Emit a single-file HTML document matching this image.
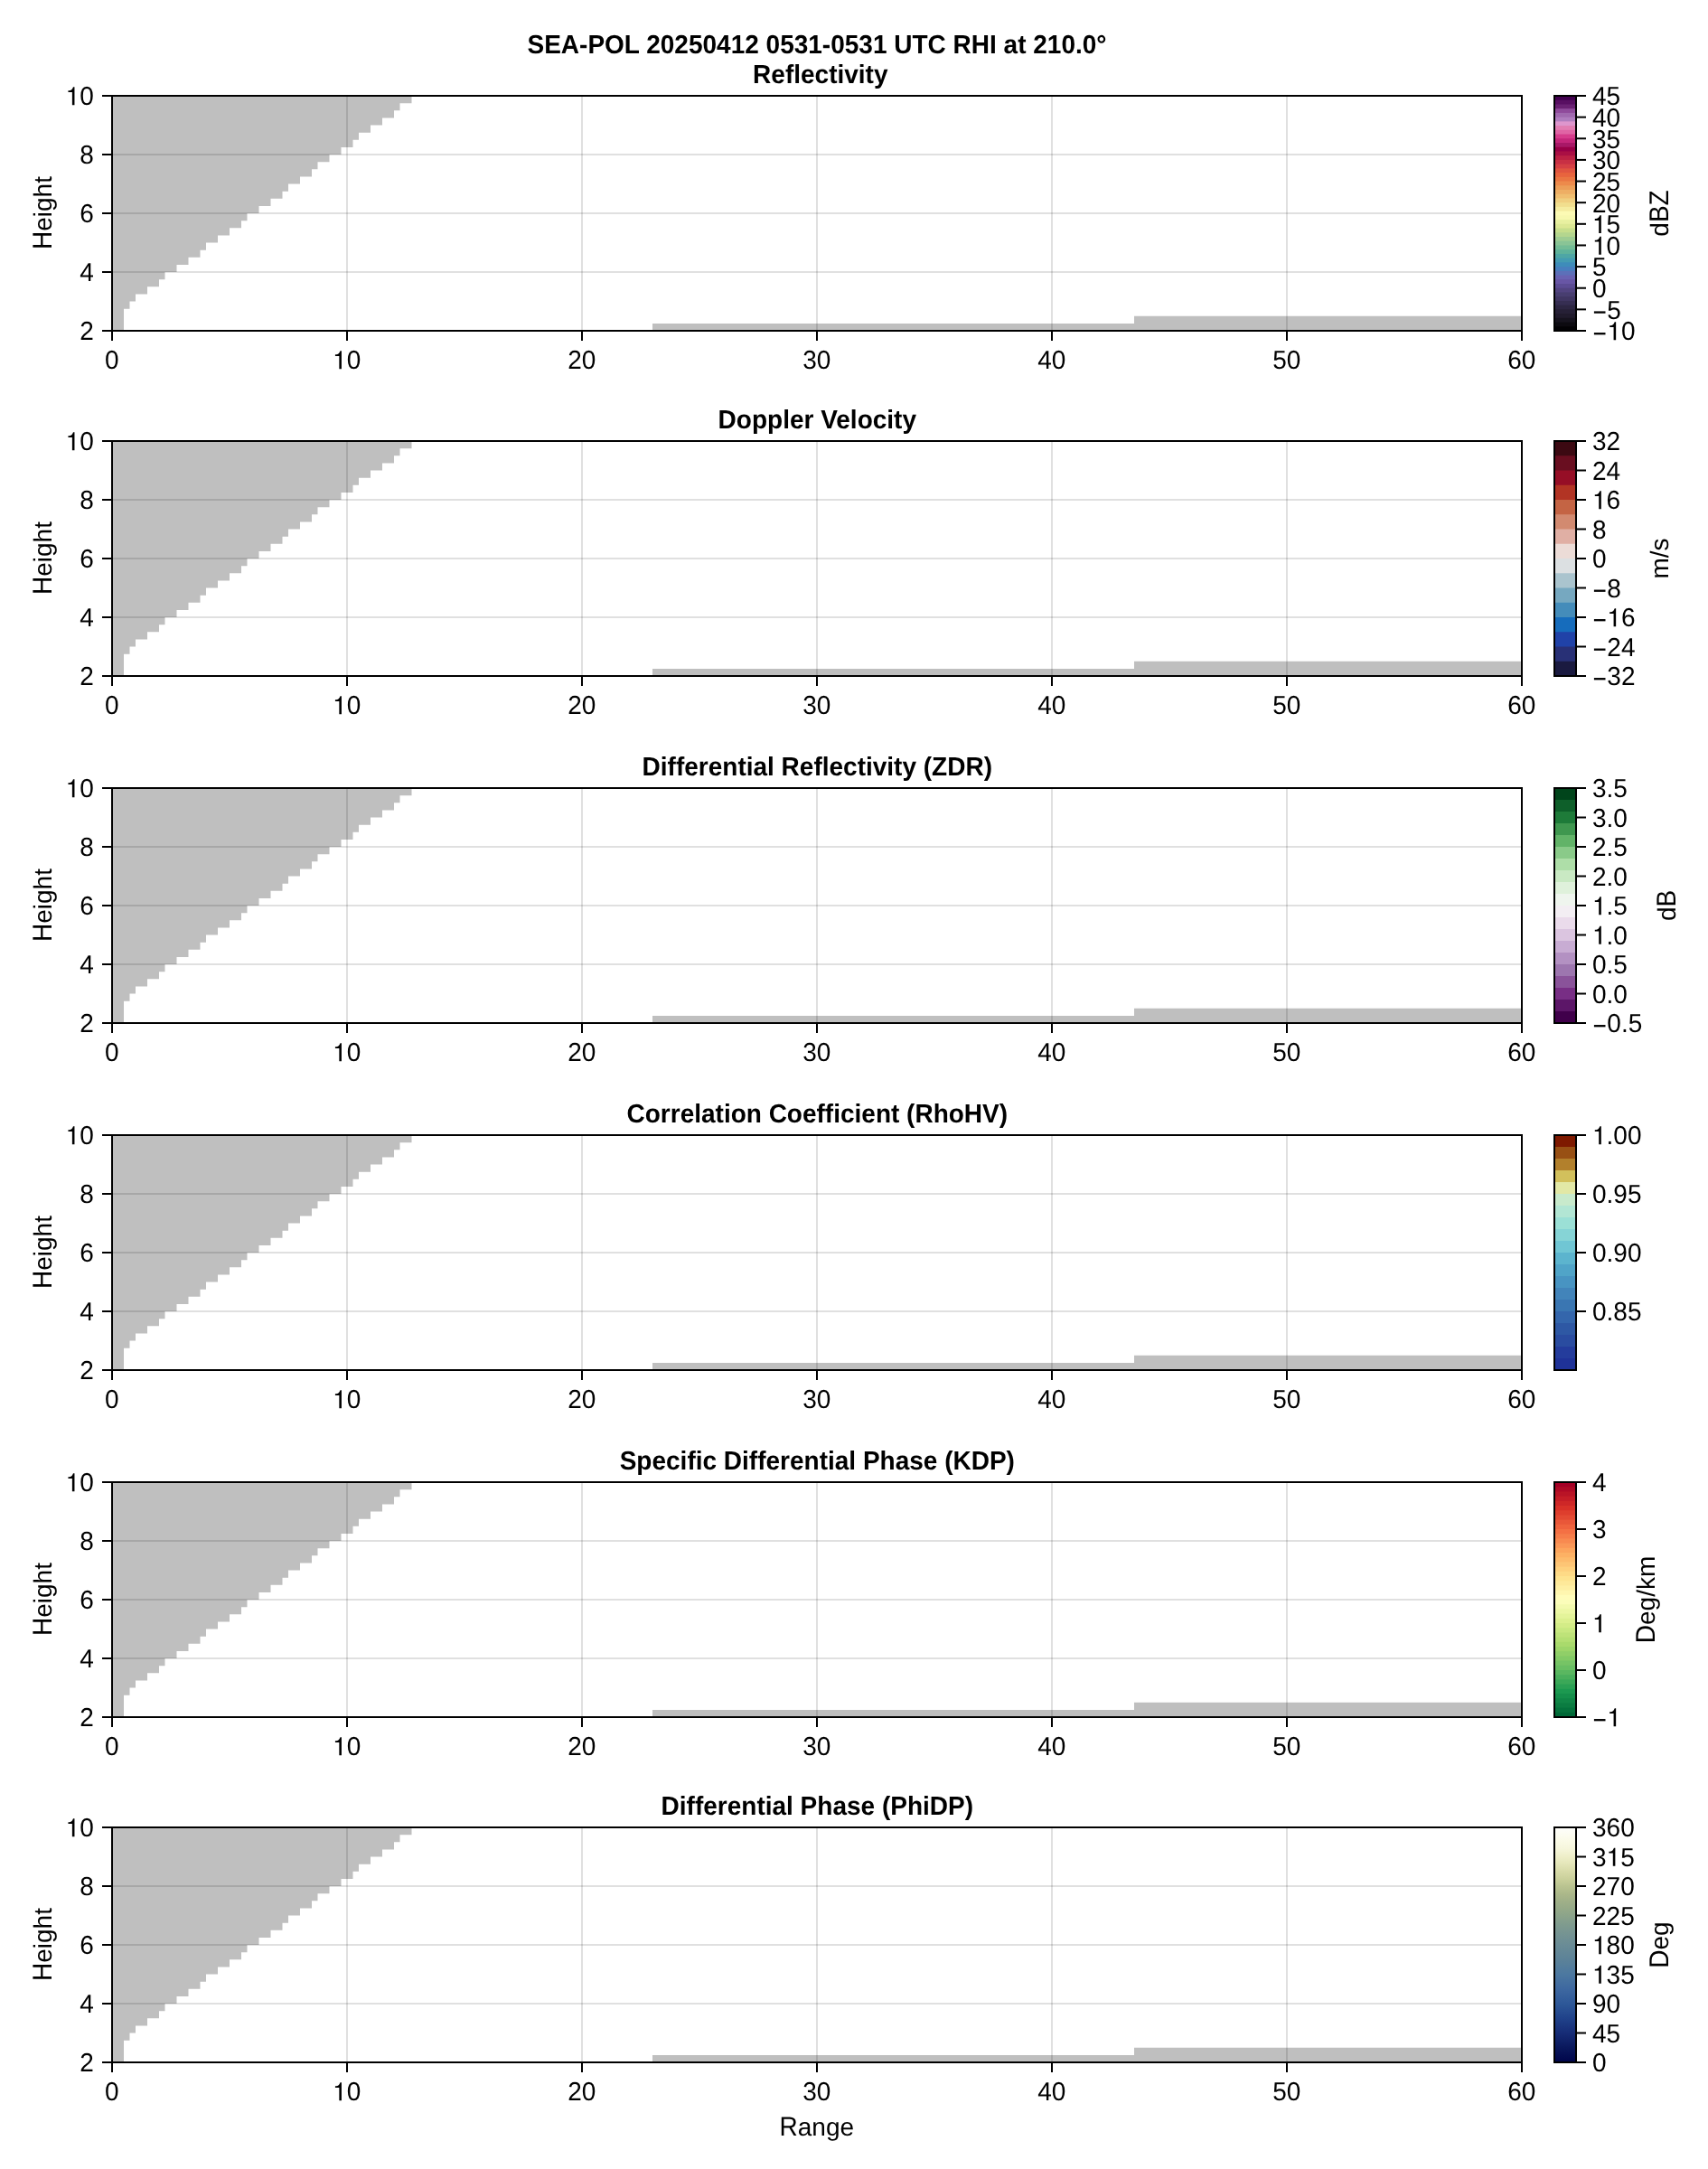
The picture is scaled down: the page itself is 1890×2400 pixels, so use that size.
<!DOCTYPE html>
<html><head><meta charset="utf-8"><title>SEA-POL RHI</title>
<style>html,body{margin:0;padding:0;background:#fff}body{width:1890px;height:2400px;overflow:hidden;font-family:"Liberation Sans",sans-serif}svg text{fill:#000;font-family:"Liberation Sans",sans-serif;text-rendering:geometricPrecision}</style></head>
<body>
<svg width="1890" height="2400" viewBox="0 0 1890 2400" style="display:block;will-change:transform">
<defs><linearGradient id="davos" x1="0" y1="1" x2="0" y2="0">
<stop offset="0" stop-color="#00054a"/>
<stop offset="0.0625" stop-color="#0a185c"/>
<stop offset="0.125" stop-color="#162c76"/>
<stop offset="0.1875" stop-color="#20428a"/>
<stop offset="0.25" stop-color="#2e5898"/>
<stop offset="0.3125" stop-color="#3e68a0"/>
<stop offset="0.375" stop-color="#4c78a0"/>
<stop offset="0.4375" stop-color="#5c8298"/>
<stop offset="0.5" stop-color="#6a8c96"/>
<stop offset="0.55" stop-color="#769492"/>
<stop offset="0.59" stop-color="#809c8e"/>
<stop offset="0.625" stop-color="#8ca48a"/>
<stop offset="0.656" stop-color="#96aa88"/>
<stop offset="0.687" stop-color="#a0b088"/>
<stop offset="0.718" stop-color="#acb88a"/>
<stop offset="0.75" stop-color="#bac491"/>
<stop offset="0.78" stop-color="#cad09b"/>
<stop offset="0.812" stop-color="#d7daa8"/>
<stop offset="0.845" stop-color="#e4e6b9"/>
<stop offset="0.875" stop-color="#eeeec8"/>
<stop offset="0.91" stop-color="#f6f6dc"/>
<stop offset="0.94" stop-color="#fafae6"/>
<stop offset="0.9667" stop-color="#fcfcf0"/>
<stop offset="1" stop-color="#fefefc"/>
</linearGradient></defs>
<rect width="1890" height="2400" fill="#fff"/>
<text transform="translate(904,59) scale(1,1.035)" font-size="28" text-anchor="middle" font-weight="bold">SEA-POL 20250412 0531-0531 UTC RHI at 210.0°</text>
<g>
<polygon fill="#bfbfbf" points="124,366 137,366 137,357.875 137,357.875 137,349.75 137,349.75 137,341.625 143.5,341.625 143.5,333.5 150,333.5 150,325.375 163,325.375 163,317.25 176,317.25 176,309.125 182.5,309.125 182.5,301 195.5,301 195.5,292.875 208.5,292.875 208.5,284.75 221.5,284.75 221.5,276.625 228,276.625 228,268.5 241,268.5 241,260.375 254,260.375 254,252.25 267,252.25 267,244.125 273.5,244.125 273.5,236 286.5,236 286.5,227.875 299.5,227.875 299.5,219.75 312.5,219.75 312.5,211.625 319,211.625 319,203.5 332,203.5 332,195.375 345,195.375 345,187.25 351.5,187.25 351.5,179.125 364.5,179.125 364.5,171 377.5,171 377.5,162.875 390.5,162.875 390.5,154.75 397,154.75 397,146.625 410,146.625 410,138.5 423,138.5 423,130.375 436,130.375 436,122.25 442.5,122.25 442.5,114.125 455.5,114.125 455.5,106 124,106"/>
<polygon fill="#bfbfbf" points="722,366 722,357.875 1255,357.875 1255,349.75 1684,349.75 1684,366"/>
<rect x="383" y="106" width="2" height="260" fill="rgba(0,0,0,0.12)"/>
<rect x="643" y="106" width="2" height="260" fill="rgba(0,0,0,0.12)"/>
<rect x="903" y="106" width="2" height="260" fill="rgba(0,0,0,0.12)"/>
<rect x="1163" y="106" width="2" height="260" fill="rgba(0,0,0,0.12)"/>
<rect x="1423" y="106" width="2" height="260" fill="rgba(0,0,0,0.12)"/>
<rect x="124" y="300" width="1560" height="2" fill="rgba(0,0,0,0.12)"/>
<rect x="124" y="235" width="1560" height="2" fill="rgba(0,0,0,0.12)"/>
<rect x="124" y="170" width="1560" height="2" fill="rgba(0,0,0,0.12)"/>
<rect x="124" y="106" width="1560" height="260" fill="none" stroke="#000" stroke-width="2"/>
<rect x="123" y="367" width="2" height="10" fill="#000"/>
<text transform="translate(115.9139,408.4) scale(1,1.03)" font-size="28">0</text>
<rect x="383" y="367" width="2" height="10" fill="#000"/>
<path d="M375.3517,408.3L375.3517,394.076L370.9277,394.076L370.9277,392.2C372.8877,392.116 374.1477,391.92 374.9877,390.94C375.7437,390.1 376.1917,389.26 376.4717,388.364L377.9277,388.364L377.9277,408.3Z" fill="#000"/>
<text transform="translate(383.7,408.4) scale(1,1.03)" font-size="28">0</text>
<rect x="643" y="367" width="2" height="10" fill="#000"/>
<text transform="translate(628.1277,408.4) scale(1,1.03)" font-size="28">20</text>
<rect x="903" y="367" width="2" height="10" fill="#000"/>
<text transform="translate(888.1277,408.4) scale(1,1.03)" font-size="28">30</text>
<rect x="1163" y="367" width="2" height="10" fill="#000"/>
<text transform="translate(1148.1277,408.4) scale(1,1.03)" font-size="28">40</text>
<rect x="1423" y="367" width="2" height="10" fill="#000"/>
<text transform="translate(1408.1277,408.4) scale(1,1.03)" font-size="28">50</text>
<rect x="1683" y="367" width="2" height="10" fill="#000"/>
<text transform="translate(1668.1277,408.4) scale(1,1.03)" font-size="28">60</text>
<rect x="113" y="365" width="10" height="2" fill="#000"/>
<text transform="translate(88.2277,376.4) scale(1,1.03)" font-size="28">2</text>
<rect x="113" y="300" width="10" height="2" fill="#000"/>
<text transform="translate(88.2277,311.4) scale(1,1.03)" font-size="28">4</text>
<rect x="113" y="235" width="10" height="2" fill="#000"/>
<text transform="translate(88.2277,246.4) scale(1,1.03)" font-size="28">6</text>
<rect x="113" y="170" width="10" height="2" fill="#000"/>
<text transform="translate(88.2277,181.4) scale(1,1.03)" font-size="28">8</text>
<rect x="113" y="105" width="10" height="2" fill="#000"/>
<path d="M79.8795,116.3L79.8795,102.076L75.4555,102.076L75.4555,100.2C77.4155,100.116 78.6755,99.92 79.5155,98.94C80.2715,98.1 80.7195,97.26 80.9995,96.364L82.4555,96.364L82.4555,116.3Z" fill="#000"/>
<text transform="translate(88.2277,116.4) scale(1,1.03)" font-size="28">0</text>
<text transform="translate(57,235.5) rotate(-90) translate(-40.4688,0) scale(1,1.07)" font-size="28">H</text>
<text transform="translate(57,235.5) rotate(-90) translate(-20.248,0)" font-size="28">eight</text>
<text transform="translate(907.8,91.8) scale(1,1.035)" font-size="28" text-anchor="middle" font-weight="bold">Reflectivity</text>
<rect x="1720" y="106" width="24" height="260" fill="#42004f"/>
<rect x="1720" y="110.7273" width="24" height="255.2727" fill="#580f62"/>
<rect x="1720" y="115.4545" width="24" height="250.5455" fill="#6a2173"/>
<rect x="1720" y="120.1818" width="24" height="245.8182" fill="#8f4b9b"/>
<rect x="1720" y="124.9091" width="24" height="241.0909" fill="#a069af"/>
<rect x="1720" y="129.6364" width="24" height="236.3636" fill="#af7dbe"/>
<rect x="1720" y="134.3636" width="24" height="231.6364" fill="#de96cd"/>
<rect x="1720" y="139.0909" width="24" height="226.9091" fill="#e27db2"/>
<rect x="1720" y="143.8182" width="24" height="222.1818" fill="#e064a5"/>
<rect x="1720" y="148.5455" width="24" height="217.4545" fill="#d63c8c"/>
<rect x="1720" y="153.2727" width="24" height="212.7273" fill="#c4267a"/>
<rect x="1720" y="158" width="24" height="208" fill="#a81867"/>
<rect x="1720" y="162.7273" width="24" height="203.2727" fill="#990047"/>
<rect x="1720" y="167.4545" width="24" height="198.5455" fill="#aa0f44"/>
<rect x="1720" y="172.1818" width="24" height="193.8182" fill="#bc2144"/>
<rect x="1720" y="176.9091" width="24" height="189.0909" fill="#c83044"/>
<rect x="1720" y="181.6364" width="24" height="184.3636" fill="#d54044"/>
<rect x="1720" y="186.3636" width="24" height="179.6364" fill="#e05540"/>
<rect x="1720" y="191.0909" width="24" height="174.9091" fill="#e8643e"/>
<rect x="1720" y="195.8182" width="24" height="170.1818" fill="#ea7642"/>
<rect x="1720" y="200.5455" width="24" height="165.4545" fill="#ed8a4b"/>
<rect x="1720" y="205.2727" width="24" height="160.7273" fill="#ec9e58"/>
<rect x="1720" y="210" width="24" height="156" fill="#eeae64"/>
<rect x="1720" y="214.7273" width="24" height="151.2727" fill="#f0be70"/>
<rect x="1720" y="219.4545" width="24" height="146.5455" fill="#f0cf80"/>
<rect x="1720" y="224.1818" width="24" height="141.8182" fill="#f1de8e"/>
<rect x="1720" y="228.9091" width="24" height="137.0909" fill="#f5eca0"/>
<rect x="1720" y="233.6364" width="24" height="132.3636" fill="#fcfab4"/>
<rect x="1720" y="238.3636" width="24" height="127.6364" fill="#f7f8af"/>
<rect x="1720" y="243.0909" width="24" height="122.9091" fill="#e8f0a0"/>
<rect x="1720" y="247.8182" width="24" height="118.1818" fill="#dce894"/>
<rect x="1720" y="252.5455" width="24" height="113.4545" fill="#c6de8c"/>
<rect x="1720" y="257.2727" width="24" height="108.7273" fill="#b4d68e"/>
<rect x="1720" y="262" width="24" height="104" fill="#9ecc92"/>
<rect x="1720" y="266.7273" width="24" height="99.2727" fill="#89c496"/>
<rect x="1720" y="271.4545" width="24" height="94.5455" fill="#73bc96"/>
<rect x="1720" y="276.1818" width="24" height="89.8182" fill="#5fb29b"/>
<rect x="1720" y="280.9091" width="24" height="85.0909" fill="#4ea6a5"/>
<rect x="1720" y="285.6364" width="24" height="80.3636" fill="#449bb2"/>
<rect x="1720" y="290.3636" width="24" height="75.6364" fill="#3e8cba"/>
<rect x="1720" y="295.0909" width="24" height="70.9091" fill="#487ebe"/>
<rect x="1720" y="299.8182" width="24" height="66.1818" fill="#5c70b9"/>
<rect x="1720" y="304.5455" width="24" height="61.4545" fill="#6962b2"/>
<rect x="1720" y="309.2727" width="24" height="56.7273" fill="#6856a5"/>
<rect x="1720" y="314" width="24" height="52" fill="#5c4c94"/>
<rect x="1720" y="318.7273" width="24" height="47.2727" fill="#524480"/>
<rect x="1720" y="323.4545" width="24" height="42.5455" fill="#483e70"/>
<rect x="1720" y="328.1818" width="24" height="37.8182" fill="#403662"/>
<rect x="1720" y="332.9091" width="24" height="33.0909" fill="#362e52"/>
<rect x="1720" y="337.6364" width="24" height="28.3636" fill="#2d2642"/>
<rect x="1720" y="342.3636" width="24" height="23.6364" fill="#262036"/>
<rect x="1720" y="347.0909" width="24" height="18.9091" fill="#201b2c"/>
<rect x="1720" y="351.8182" width="24" height="14.1818" fill="#16131e"/>
<rect x="1720" y="356.5455" width="24" height="9.4545" fill="#0c0a10"/>
<rect x="1720" y="361.2727" width="24" height="4.7273" fill="#030205"/>
<rect x="1720" y="106" width="24" height="260" fill="none" stroke="#000" stroke-width="2"/>
<rect x="1745" y="105" width="10" height="2" fill="#000"/>
<text transform="translate(1762,116.4) scale(1,1.03)" font-size="28">45</text>
<rect x="1745" y="128.6364" width="10" height="2" fill="#000"/>
<text transform="translate(1762,140.0364) scale(1,1.03)" font-size="28">40</text>
<rect x="1745" y="152.2727" width="10" height="2" fill="#000"/>
<text transform="translate(1762,163.6727) scale(1,1.03)" font-size="28">35</text>
<rect x="1745" y="175.9091" width="10" height="2" fill="#000"/>
<text transform="translate(1762,187.3091) scale(1,1.03)" font-size="28">30</text>
<rect x="1745" y="199.5455" width="10" height="2" fill="#000"/>
<text transform="translate(1762,210.9455) scale(1,1.03)" font-size="28">25</text>
<rect x="1745" y="223.1818" width="10" height="2" fill="#000"/>
<text transform="translate(1762,234.5818) scale(1,1.03)" font-size="28">20</text>
<rect x="1745" y="246.8182" width="10" height="2" fill="#000"/>
<path d="M1769.224,258.1182L1769.224,243.8942L1764.8,243.8942L1764.8,242.0182C1766.76,241.9342 1768.02,241.7382 1768.86,240.7582C1769.616,239.9182 1770.064,239.0782 1770.344,238.1822L1771.8,238.1822L1771.8,258.1182Z" fill="#000"/>
<text transform="translate(1777.5723,258.2182) scale(1,1.03)" font-size="28">5</text>
<rect x="1745" y="270.4545" width="10" height="2" fill="#000"/>
<path d="M1769.224,281.7545L1769.224,267.5305L1764.8,267.5305L1764.8,265.6545C1766.76,265.5705 1768.02,265.3745 1768.86,264.3945C1769.616,263.5545 1770.064,262.7145 1770.344,261.8185L1771.8,261.8185L1771.8,281.7545Z" fill="#000"/>
<text transform="translate(1777.5723,281.8545) scale(1,1.03)" font-size="28">0</text>
<rect x="1745" y="294.0909" width="10" height="2" fill="#000"/>
<text transform="translate(1762,305.4909) scale(1,1.03)" font-size="28">5</text>
<rect x="1745" y="317.7273" width="10" height="2" fill="#000"/>
<text transform="translate(1762,329.1273) scale(1,1.03)" font-size="28">0</text>
<rect x="1745" y="341.3636" width="10" height="2" fill="#000"/>
<rect x="1763.9" y="344.4136" width="12.6" height="2.3" fill="#000"/>
<text transform="translate(1778.3516,352.7636) scale(1,1.03)" font-size="28">5</text>
<rect x="1745" y="365" width="10" height="2" fill="#000"/>
<rect x="1763.9" y="368.05" width="12.6" height="2.3" fill="#000"/>
<path d="M1785.5756,376.3L1785.5756,362.076L1781.1516,362.076L1781.1516,360.2C1783.1116,360.116 1784.3716,359.92 1785.2116,358.94C1785.9676,358.1 1786.4156,357.26 1786.6956,356.364L1788.1516,356.364L1788.1516,376.3Z" fill="#000"/>
<text transform="translate(1793.9238,376.4) scale(1,1.03)" font-size="28">0</text>
<text transform="translate(1846.488,236) rotate(-90) translate(-25.6758,0)" font-size="28">d</text>
<text transform="translate(1846.488,236) rotate(-90) translate(-10.1035,0) scale(1,1.07)" font-size="28">BZ</text>
</g>
<g>
<polygon fill="#bfbfbf" points="124,748 137,748 137,739.875 137,739.875 137,731.75 137,731.75 137,723.625 143.5,723.625 143.5,715.5 150,715.5 150,707.375 163,707.375 163,699.25 176,699.25 176,691.125 182.5,691.125 182.5,683 195.5,683 195.5,674.875 208.5,674.875 208.5,666.75 221.5,666.75 221.5,658.625 228,658.625 228,650.5 241,650.5 241,642.375 254,642.375 254,634.25 267,634.25 267,626.125 273.5,626.125 273.5,618 286.5,618 286.5,609.875 299.5,609.875 299.5,601.75 312.5,601.75 312.5,593.625 319,593.625 319,585.5 332,585.5 332,577.375 345,577.375 345,569.25 351.5,569.25 351.5,561.125 364.5,561.125 364.5,553 377.5,553 377.5,544.875 390.5,544.875 390.5,536.75 397,536.75 397,528.625 410,528.625 410,520.5 423,520.5 423,512.375 436,512.375 436,504.25 442.5,504.25 442.5,496.125 455.5,496.125 455.5,488 124,488"/>
<polygon fill="#bfbfbf" points="722,748 722,739.875 1255,739.875 1255,731.75 1684,731.75 1684,748"/>
<rect x="383" y="488" width="2" height="260" fill="rgba(0,0,0,0.12)"/>
<rect x="643" y="488" width="2" height="260" fill="rgba(0,0,0,0.12)"/>
<rect x="903" y="488" width="2" height="260" fill="rgba(0,0,0,0.12)"/>
<rect x="1163" y="488" width="2" height="260" fill="rgba(0,0,0,0.12)"/>
<rect x="1423" y="488" width="2" height="260" fill="rgba(0,0,0,0.12)"/>
<rect x="124" y="682" width="1560" height="2" fill="rgba(0,0,0,0.12)"/>
<rect x="124" y="617" width="1560" height="2" fill="rgba(0,0,0,0.12)"/>
<rect x="124" y="552" width="1560" height="2" fill="rgba(0,0,0,0.12)"/>
<rect x="124" y="488" width="1560" height="260" fill="none" stroke="#000" stroke-width="2"/>
<rect x="123" y="749" width="2" height="10" fill="#000"/>
<text transform="translate(115.9139,790.4) scale(1,1.03)" font-size="28">0</text>
<rect x="383" y="749" width="2" height="10" fill="#000"/>
<path d="M375.3517,790.3L375.3517,776.076L370.9277,776.076L370.9277,774.2C372.8877,774.116 374.1477,773.92 374.9877,772.94C375.7437,772.1 376.1917,771.26 376.4717,770.364L377.9277,770.364L377.9277,790.3Z" fill="#000"/>
<text transform="translate(383.7,790.4) scale(1,1.03)" font-size="28">0</text>
<rect x="643" y="749" width="2" height="10" fill="#000"/>
<text transform="translate(628.1277,790.4) scale(1,1.03)" font-size="28">20</text>
<rect x="903" y="749" width="2" height="10" fill="#000"/>
<text transform="translate(888.1277,790.4) scale(1,1.03)" font-size="28">30</text>
<rect x="1163" y="749" width="2" height="10" fill="#000"/>
<text transform="translate(1148.1277,790.4) scale(1,1.03)" font-size="28">40</text>
<rect x="1423" y="749" width="2" height="10" fill="#000"/>
<text transform="translate(1408.1277,790.4) scale(1,1.03)" font-size="28">50</text>
<rect x="1683" y="749" width="2" height="10" fill="#000"/>
<text transform="translate(1668.1277,790.4) scale(1,1.03)" font-size="28">60</text>
<rect x="113" y="747" width="10" height="2" fill="#000"/>
<text transform="translate(88.2277,758.4) scale(1,1.03)" font-size="28">2</text>
<rect x="113" y="682" width="10" height="2" fill="#000"/>
<text transform="translate(88.2277,693.4) scale(1,1.03)" font-size="28">4</text>
<rect x="113" y="617" width="10" height="2" fill="#000"/>
<text transform="translate(88.2277,628.4) scale(1,1.03)" font-size="28">6</text>
<rect x="113" y="552" width="10" height="2" fill="#000"/>
<text transform="translate(88.2277,563.4) scale(1,1.03)" font-size="28">8</text>
<rect x="113" y="487" width="10" height="2" fill="#000"/>
<path d="M79.8795,498.3L79.8795,484.076L75.4555,484.076L75.4555,482.2C77.4155,482.116 78.6755,481.92 79.5155,480.94C80.2715,480.1 80.7195,479.26 80.9995,478.364L82.4555,478.364L82.4555,498.3Z" fill="#000"/>
<text transform="translate(88.2277,498.4) scale(1,1.03)" font-size="28">0</text>
<text transform="translate(57,617.5) rotate(-90) translate(-40.4688,0) scale(1,1.07)" font-size="28">H</text>
<text transform="translate(57,617.5) rotate(-90) translate(-20.248,0)" font-size="28">eight</text>
<text transform="translate(904.3,473.8) scale(1,1.035)" font-size="28" text-anchor="middle" font-weight="bold">Doppler Velocity</text>
<rect x="1720" y="488" width="24" height="260" fill="#3c0912"/>
<rect x="1720" y="504.25" width="24" height="243.75" fill="#690e20"/>
<rect x="1720" y="520.5" width="24" height="227.5" fill="#960e26"/>
<rect x="1720" y="536.75" width="24" height="211.25" fill="#b23424"/>
<rect x="1720" y="553" width="24" height="195" fill="#c46444"/>
<rect x="1720" y="569.25" width="24" height="178.75" fill="#d28a70"/>
<rect x="1720" y="585.5" width="24" height="162.5" fill="#e0afa4"/>
<rect x="1720" y="601.75" width="24" height="146.25" fill="#ecdcd7"/>
<rect x="1720" y="618" width="24" height="130" fill="#dce0e2"/>
<rect x="1720" y="634.25" width="24" height="113.75" fill="#aac4ce"/>
<rect x="1720" y="650.5" width="24" height="97.5" fill="#76a8c0"/>
<rect x="1720" y="666.75" width="24" height="81.25" fill="#448cba"/>
<rect x="1720" y="683" width="24" height="65" fill="#166cbc"/>
<rect x="1720" y="699.25" width="24" height="48.75" fill="#2042a8"/>
<rect x="1720" y="715.5" width="24" height="32.5" fill="#283076"/>
<rect x="1720" y="731.75" width="24" height="16.25" fill="#1a1a40"/>
<rect x="1720" y="488" width="24" height="260" fill="none" stroke="#000" stroke-width="2"/>
<rect x="1745" y="487" width="10" height="2" fill="#000"/>
<text transform="translate(1762,498.4) scale(1,1.03)" font-size="28">32</text>
<rect x="1745" y="519.5" width="10" height="2" fill="#000"/>
<text transform="translate(1762,530.9) scale(1,1.03)" font-size="28">24</text>
<rect x="1745" y="552" width="10" height="2" fill="#000"/>
<path d="M1769.224,563.3L1769.224,549.076L1764.8,549.076L1764.8,547.2C1766.76,547.116 1768.02,546.92 1768.86,545.94C1769.616,545.1 1770.064,544.26 1770.344,543.364L1771.8,543.364L1771.8,563.3Z" fill="#000"/>
<text transform="translate(1777.5723,563.4) scale(1,1.03)" font-size="28">6</text>
<rect x="1745" y="584.5" width="10" height="2" fill="#000"/>
<text transform="translate(1762,595.9) scale(1,1.03)" font-size="28">8</text>
<rect x="1745" y="617" width="10" height="2" fill="#000"/>
<text transform="translate(1762,628.4) scale(1,1.03)" font-size="28">0</text>
<rect x="1745" y="649.5" width="10" height="2" fill="#000"/>
<rect x="1763.9" y="652.55" width="12.6" height="2.3" fill="#000"/>
<text transform="translate(1778.3516,660.9) scale(1,1.03)" font-size="28">8</text>
<rect x="1745" y="682" width="10" height="2" fill="#000"/>
<rect x="1763.9" y="685.05" width="12.6" height="2.3" fill="#000"/>
<path d="M1785.5756,693.3L1785.5756,679.076L1781.1516,679.076L1781.1516,677.2C1783.1116,677.116 1784.3716,676.92 1785.2116,675.94C1785.9676,675.1 1786.4156,674.26 1786.6956,673.364L1788.1516,673.364L1788.1516,693.3Z" fill="#000"/>
<text transform="translate(1793.9238,693.4) scale(1,1.03)" font-size="28">6</text>
<rect x="1745" y="714.5" width="10" height="2" fill="#000"/>
<rect x="1763.9" y="717.55" width="12.6" height="2.3" fill="#000"/>
<text transform="translate(1778.3516,725.9) scale(1,1.03)" font-size="28">24</text>
<rect x="1745" y="747" width="10" height="2" fill="#000"/>
<rect x="1763.9" y="750.05" width="12.6" height="2.3" fill="#000"/>
<text transform="translate(1778.3516,758.4) scale(1,1.03)" font-size="28">32</text>
<text transform="translate(1846.488,618) rotate(-90) translate(-22.5518,0)" font-size="28">m/s</text>
</g>
<g>
<polygon fill="#bfbfbf" points="124,1132 137,1132 137,1123.875 137,1123.875 137,1115.75 137,1115.75 137,1107.625 143.5,1107.625 143.5,1099.5 150,1099.5 150,1091.375 163,1091.375 163,1083.25 176,1083.25 176,1075.125 182.5,1075.125 182.5,1067 195.5,1067 195.5,1058.875 208.5,1058.875 208.5,1050.75 221.5,1050.75 221.5,1042.625 228,1042.625 228,1034.5 241,1034.5 241,1026.375 254,1026.375 254,1018.25 267,1018.25 267,1010.125 273.5,1010.125 273.5,1002 286.5,1002 286.5,993.875 299.5,993.875 299.5,985.75 312.5,985.75 312.5,977.625 319,977.625 319,969.5 332,969.5 332,961.375 345,961.375 345,953.25 351.5,953.25 351.5,945.125 364.5,945.125 364.5,937 377.5,937 377.5,928.875 390.5,928.875 390.5,920.75 397,920.75 397,912.625 410,912.625 410,904.5 423,904.5 423,896.375 436,896.375 436,888.25 442.5,888.25 442.5,880.125 455.5,880.125 455.5,872 124,872"/>
<polygon fill="#bfbfbf" points="722,1132 722,1123.875 1255,1123.875 1255,1115.75 1684,1115.75 1684,1132"/>
<rect x="383" y="872" width="2" height="260" fill="rgba(0,0,0,0.12)"/>
<rect x="643" y="872" width="2" height="260" fill="rgba(0,0,0,0.12)"/>
<rect x="903" y="872" width="2" height="260" fill="rgba(0,0,0,0.12)"/>
<rect x="1163" y="872" width="2" height="260" fill="rgba(0,0,0,0.12)"/>
<rect x="1423" y="872" width="2" height="260" fill="rgba(0,0,0,0.12)"/>
<rect x="124" y="1066" width="1560" height="2" fill="rgba(0,0,0,0.12)"/>
<rect x="124" y="1001" width="1560" height="2" fill="rgba(0,0,0,0.12)"/>
<rect x="124" y="936" width="1560" height="2" fill="rgba(0,0,0,0.12)"/>
<rect x="124" y="872" width="1560" height="260" fill="none" stroke="#000" stroke-width="2"/>
<rect x="123" y="1133" width="2" height="10" fill="#000"/>
<text transform="translate(115.9139,1174.4) scale(1,1.03)" font-size="28">0</text>
<rect x="383" y="1133" width="2" height="10" fill="#000"/>
<path d="M375.3517,1174.3L375.3517,1160.076L370.9277,1160.076L370.9277,1158.2C372.8877,1158.116 374.1477,1157.92 374.9877,1156.94C375.7437,1156.1 376.1917,1155.26 376.4717,1154.364L377.9277,1154.364L377.9277,1174.3Z" fill="#000"/>
<text transform="translate(383.7,1174.4) scale(1,1.03)" font-size="28">0</text>
<rect x="643" y="1133" width="2" height="10" fill="#000"/>
<text transform="translate(628.1277,1174.4) scale(1,1.03)" font-size="28">20</text>
<rect x="903" y="1133" width="2" height="10" fill="#000"/>
<text transform="translate(888.1277,1174.4) scale(1,1.03)" font-size="28">30</text>
<rect x="1163" y="1133" width="2" height="10" fill="#000"/>
<text transform="translate(1148.1277,1174.4) scale(1,1.03)" font-size="28">40</text>
<rect x="1423" y="1133" width="2" height="10" fill="#000"/>
<text transform="translate(1408.1277,1174.4) scale(1,1.03)" font-size="28">50</text>
<rect x="1683" y="1133" width="2" height="10" fill="#000"/>
<text transform="translate(1668.1277,1174.4) scale(1,1.03)" font-size="28">60</text>
<rect x="113" y="1131" width="10" height="2" fill="#000"/>
<text transform="translate(88.2277,1142.4) scale(1,1.03)" font-size="28">2</text>
<rect x="113" y="1066" width="10" height="2" fill="#000"/>
<text transform="translate(88.2277,1077.4) scale(1,1.03)" font-size="28">4</text>
<rect x="113" y="1001" width="10" height="2" fill="#000"/>
<text transform="translate(88.2277,1012.4) scale(1,1.03)" font-size="28">6</text>
<rect x="113" y="936" width="10" height="2" fill="#000"/>
<text transform="translate(88.2277,947.4) scale(1,1.03)" font-size="28">8</text>
<rect x="113" y="871" width="10" height="2" fill="#000"/>
<path d="M79.8795,882.3L79.8795,868.076L75.4555,868.076L75.4555,866.2C77.4155,866.116 78.6755,865.92 79.5155,864.94C80.2715,864.1 80.7195,863.26 80.9995,862.364L82.4555,862.364L82.4555,882.3Z" fill="#000"/>
<text transform="translate(88.2277,882.4) scale(1,1.03)" font-size="28">0</text>
<text transform="translate(57,1001.5) rotate(-90) translate(-40.4688,0) scale(1,1.07)" font-size="28">H</text>
<text transform="translate(57,1001.5) rotate(-90) translate(-20.248,0)" font-size="28">eight</text>
<text transform="translate(904.3,857.8) scale(1,1.035)" font-size="28" text-anchor="middle" font-weight="bold">Differential Reflectivity (ZDR)</text>
<rect x="1720" y="872" width="24" height="260" fill="#00441b"/>
<rect x="1720" y="885" width="24" height="247" fill="#0e5f2a"/>
<rect x="1720" y="898" width="24" height="234" fill="#1e7b39"/>
<rect x="1720" y="911" width="24" height="221" fill="#3f974f"/>
<rect x="1720" y="924" width="24" height="208" fill="#62b368"/>
<rect x="1720" y="937" width="24" height="195" fill="#8aca89"/>
<rect x="1720" y="950" width="24" height="182" fill="#aedea8"/>
<rect x="1720" y="963" width="24" height="169" fill="#c9e9c3"/>
<rect x="1720" y="976" width="24" height="156" fill="#dff1db"/>
<rect x="1720" y="989" width="24" height="143" fill="#eff5ee"/>
<rect x="1720" y="1002" width="24" height="130" fill="#f3eef3"/>
<rect x="1720" y="1015" width="24" height="117" fill="#eadbeb"/>
<rect x="1720" y="1028" width="24" height="104" fill="#dbc5e0"/>
<rect x="1720" y="1041" width="24" height="91" fill="#c8acd3"/>
<rect x="1720" y="1054" width="24" height="78" fill="#b391c2"/>
<rect x="1720" y="1067" width="24" height="65" fill="#9d76af"/>
<rect x="1720" y="1080" width="24" height="52" fill="#8a539a"/>
<rect x="1720" y="1093" width="24" height="39" fill="#782e85"/>
<rect x="1720" y="1106" width="24" height="26" fill="#5c1668"/>
<rect x="1720" y="1119" width="24" height="13" fill="#40004b"/>
<rect x="1720" y="872" width="24" height="260" fill="none" stroke="#000" stroke-width="2"/>
<rect x="1745" y="871" width="10" height="2" fill="#000"/>
<text transform="translate(1762,882.4) scale(1,1.03)" font-size="28">3.5</text>
<rect x="1745" y="903.5" width="10" height="2" fill="#000"/>
<text transform="translate(1762,914.9) scale(1,1.03)" font-size="28">3.0</text>
<rect x="1745" y="936" width="10" height="2" fill="#000"/>
<text transform="translate(1762,947.4) scale(1,1.03)" font-size="28">2.5</text>
<rect x="1745" y="968.5" width="10" height="2" fill="#000"/>
<text transform="translate(1762,979.9) scale(1,1.03)" font-size="28">2.0</text>
<rect x="1745" y="1001" width="10" height="2" fill="#000"/>
<path d="M1769.224,1012.3L1769.224,998.076L1764.8,998.076L1764.8,996.2C1766.76,996.116 1768.02,995.92 1768.86,994.94C1769.616,994.1 1770.064,993.26 1770.344,992.364L1771.8,992.364L1771.8,1012.3Z" fill="#000"/>
<text transform="translate(1777.5723,1012.4) scale(1,1.03)" font-size="28">.5</text>
<rect x="1745" y="1033.5" width="10" height="2" fill="#000"/>
<path d="M1769.224,1044.8L1769.224,1030.576L1764.8,1030.576L1764.8,1028.7C1766.76,1028.616 1768.02,1028.42 1768.86,1027.44C1769.616,1026.6 1770.064,1025.76 1770.344,1024.864L1771.8,1024.864L1771.8,1044.8Z" fill="#000"/>
<text transform="translate(1777.5723,1044.9) scale(1,1.03)" font-size="28">.0</text>
<rect x="1745" y="1066" width="10" height="2" fill="#000"/>
<text transform="translate(1762,1077.4) scale(1,1.03)" font-size="28">0.5</text>
<rect x="1745" y="1098.5" width="10" height="2" fill="#000"/>
<text transform="translate(1762,1109.9) scale(1,1.03)" font-size="28">0.0</text>
<rect x="1745" y="1131" width="10" height="2" fill="#000"/>
<rect x="1763.9" y="1134.05" width="12.6" height="2.3" fill="#000"/>
<text transform="translate(1778.3516,1142.4) scale(1,1.03)" font-size="28">0.5</text>
<text transform="translate(1854.272,1002) rotate(-90) translate(-17.124,0)" font-size="28">d</text>
<text transform="translate(1854.272,1002) rotate(-90) translate(-1.5518,0) scale(1,1.07)" font-size="28">B</text>
</g>
<g>
<polygon fill="#bfbfbf" points="124,1516 137,1516 137,1507.875 137,1507.875 137,1499.75 137,1499.75 137,1491.625 143.5,1491.625 143.5,1483.5 150,1483.5 150,1475.375 163,1475.375 163,1467.25 176,1467.25 176,1459.125 182.5,1459.125 182.5,1451 195.5,1451 195.5,1442.875 208.5,1442.875 208.5,1434.75 221.5,1434.75 221.5,1426.625 228,1426.625 228,1418.5 241,1418.5 241,1410.375 254,1410.375 254,1402.25 267,1402.25 267,1394.125 273.5,1394.125 273.5,1386 286.5,1386 286.5,1377.875 299.5,1377.875 299.5,1369.75 312.5,1369.75 312.5,1361.625 319,1361.625 319,1353.5 332,1353.5 332,1345.375 345,1345.375 345,1337.25 351.5,1337.25 351.5,1329.125 364.5,1329.125 364.5,1321 377.5,1321 377.5,1312.875 390.5,1312.875 390.5,1304.75 397,1304.75 397,1296.625 410,1296.625 410,1288.5 423,1288.5 423,1280.375 436,1280.375 436,1272.25 442.5,1272.25 442.5,1264.125 455.5,1264.125 455.5,1256 124,1256"/>
<polygon fill="#bfbfbf" points="722,1516 722,1507.875 1255,1507.875 1255,1499.75 1684,1499.75 1684,1516"/>
<rect x="383" y="1256" width="2" height="260" fill="rgba(0,0,0,0.12)"/>
<rect x="643" y="1256" width="2" height="260" fill="rgba(0,0,0,0.12)"/>
<rect x="903" y="1256" width="2" height="260" fill="rgba(0,0,0,0.12)"/>
<rect x="1163" y="1256" width="2" height="260" fill="rgba(0,0,0,0.12)"/>
<rect x="1423" y="1256" width="2" height="260" fill="rgba(0,0,0,0.12)"/>
<rect x="124" y="1450" width="1560" height="2" fill="rgba(0,0,0,0.12)"/>
<rect x="124" y="1385" width="1560" height="2" fill="rgba(0,0,0,0.12)"/>
<rect x="124" y="1320" width="1560" height="2" fill="rgba(0,0,0,0.12)"/>
<rect x="124" y="1256" width="1560" height="260" fill="none" stroke="#000" stroke-width="2"/>
<rect x="123" y="1517" width="2" height="10" fill="#000"/>
<text transform="translate(115.9139,1558.4) scale(1,1.03)" font-size="28">0</text>
<rect x="383" y="1517" width="2" height="10" fill="#000"/>
<path d="M375.3517,1558.3L375.3517,1544.076L370.9277,1544.076L370.9277,1542.2C372.8877,1542.116 374.1477,1541.92 374.9877,1540.94C375.7437,1540.1 376.1917,1539.26 376.4717,1538.364L377.9277,1538.364L377.9277,1558.3Z" fill="#000"/>
<text transform="translate(383.7,1558.4) scale(1,1.03)" font-size="28">0</text>
<rect x="643" y="1517" width="2" height="10" fill="#000"/>
<text transform="translate(628.1277,1558.4) scale(1,1.03)" font-size="28">20</text>
<rect x="903" y="1517" width="2" height="10" fill="#000"/>
<text transform="translate(888.1277,1558.4) scale(1,1.03)" font-size="28">30</text>
<rect x="1163" y="1517" width="2" height="10" fill="#000"/>
<text transform="translate(1148.1277,1558.4) scale(1,1.03)" font-size="28">40</text>
<rect x="1423" y="1517" width="2" height="10" fill="#000"/>
<text transform="translate(1408.1277,1558.4) scale(1,1.03)" font-size="28">50</text>
<rect x="1683" y="1517" width="2" height="10" fill="#000"/>
<text transform="translate(1668.1277,1558.4) scale(1,1.03)" font-size="28">60</text>
<rect x="113" y="1515" width="10" height="2" fill="#000"/>
<text transform="translate(88.2277,1526.4) scale(1,1.03)" font-size="28">2</text>
<rect x="113" y="1450" width="10" height="2" fill="#000"/>
<text transform="translate(88.2277,1461.4) scale(1,1.03)" font-size="28">4</text>
<rect x="113" y="1385" width="10" height="2" fill="#000"/>
<text transform="translate(88.2277,1396.4) scale(1,1.03)" font-size="28">6</text>
<rect x="113" y="1320" width="10" height="2" fill="#000"/>
<text transform="translate(88.2277,1331.4) scale(1,1.03)" font-size="28">8</text>
<rect x="113" y="1255" width="10" height="2" fill="#000"/>
<path d="M79.8795,1266.3L79.8795,1252.076L75.4555,1252.076L75.4555,1250.2C77.4155,1250.116 78.6755,1249.92 79.5155,1248.94C80.2715,1248.1 80.7195,1247.26 80.9995,1246.364L82.4555,1246.364L82.4555,1266.3Z" fill="#000"/>
<text transform="translate(88.2277,1266.4) scale(1,1.03)" font-size="28">0</text>
<text transform="translate(57,1385.5) rotate(-90) translate(-40.4688,0) scale(1,1.07)" font-size="28">H</text>
<text transform="translate(57,1385.5) rotate(-90) translate(-20.248,0)" font-size="28">eight</text>
<text transform="translate(904.3,1241.8) scale(1,1.035)" font-size="28" text-anchor="middle" font-weight="bold">Correlation Coefficient (RhoHV)</text>
<rect x="1720" y="1256" width="24" height="260" fill="#7e1900"/>
<rect x="1720" y="1269" width="24" height="247" fill="#985014"/>
<rect x="1720" y="1282" width="24" height="234" fill="#b2802c"/>
<rect x="1720" y="1295" width="24" height="221" fill="#d2c05c"/>
<rect x="1720" y="1308" width="24" height="208" fill="#e2e8a6"/>
<rect x="1720" y="1321" width="24" height="195" fill="#c8eacc"/>
<rect x="1720" y="1334" width="24" height="182" fill="#b2e6d4"/>
<rect x="1720" y="1347" width="24" height="169" fill="#9be0d6"/>
<rect x="1720" y="1360" width="24" height="156" fill="#86d4d6"/>
<rect x="1720" y="1373" width="24" height="143" fill="#70c6d4"/>
<rect x="1720" y="1386" width="24" height="130" fill="#5cb4ce"/>
<rect x="1720" y="1399" width="24" height="117" fill="#50a4c8"/>
<rect x="1720" y="1412" width="24" height="104" fill="#4894c2"/>
<rect x="1720" y="1425" width="24" height="91" fill="#4284ba"/>
<rect x="1720" y="1438" width="24" height="78" fill="#3a76b2"/>
<rect x="1720" y="1451" width="24" height="65" fill="#3466ac"/>
<rect x="1720" y="1464" width="24" height="52" fill="#2e58a4"/>
<rect x="1720" y="1477" width="24" height="39" fill="#2a4ca0"/>
<rect x="1720" y="1490" width="24" height="26" fill="#243c9c"/>
<rect x="1720" y="1503" width="24" height="13" fill="#1f3298"/>
<rect x="1720" y="1256" width="24" height="260" fill="none" stroke="#000" stroke-width="2"/>
<rect x="1745" y="1255" width="10" height="2" fill="#000"/>
<path d="M1769.224,1266.3L1769.224,1252.076L1764.8,1252.076L1764.8,1250.2C1766.76,1250.116 1768.02,1249.92 1768.86,1248.94C1769.616,1248.1 1770.064,1247.26 1770.344,1246.364L1771.8,1246.364L1771.8,1266.3Z" fill="#000"/>
<text transform="translate(1777.5723,1266.4) scale(1,1.03)" font-size="28">.00</text>
<rect x="1745" y="1320" width="10" height="2" fill="#000"/>
<text transform="translate(1762,1331.4) scale(1,1.03)" font-size="28">0.95</text>
<rect x="1745" y="1385" width="10" height="2" fill="#000"/>
<text transform="translate(1762,1396.4) scale(1,1.03)" font-size="28">0.90</text>
<rect x="1745" y="1450" width="10" height="2" fill="#000"/>
<text transform="translate(1762,1461.4) scale(1,1.03)" font-size="28">0.85</text>
</g>
<g>
<polygon fill="#bfbfbf" points="124,1900 137,1900 137,1891.875 137,1891.875 137,1883.75 137,1883.75 137,1875.625 143.5,1875.625 143.5,1867.5 150,1867.5 150,1859.375 163,1859.375 163,1851.25 176,1851.25 176,1843.125 182.5,1843.125 182.5,1835 195.5,1835 195.5,1826.875 208.5,1826.875 208.5,1818.75 221.5,1818.75 221.5,1810.625 228,1810.625 228,1802.5 241,1802.5 241,1794.375 254,1794.375 254,1786.25 267,1786.25 267,1778.125 273.5,1778.125 273.5,1770 286.5,1770 286.5,1761.875 299.5,1761.875 299.5,1753.75 312.5,1753.75 312.5,1745.625 319,1745.625 319,1737.5 332,1737.5 332,1729.375 345,1729.375 345,1721.25 351.5,1721.25 351.5,1713.125 364.5,1713.125 364.5,1705 377.5,1705 377.5,1696.875 390.5,1696.875 390.5,1688.75 397,1688.75 397,1680.625 410,1680.625 410,1672.5 423,1672.5 423,1664.375 436,1664.375 436,1656.25 442.5,1656.25 442.5,1648.125 455.5,1648.125 455.5,1640 124,1640"/>
<polygon fill="#bfbfbf" points="722,1900 722,1891.875 1255,1891.875 1255,1883.75 1684,1883.75 1684,1900"/>
<rect x="383" y="1640" width="2" height="260" fill="rgba(0,0,0,0.12)"/>
<rect x="643" y="1640" width="2" height="260" fill="rgba(0,0,0,0.12)"/>
<rect x="903" y="1640" width="2" height="260" fill="rgba(0,0,0,0.12)"/>
<rect x="1163" y="1640" width="2" height="260" fill="rgba(0,0,0,0.12)"/>
<rect x="1423" y="1640" width="2" height="260" fill="rgba(0,0,0,0.12)"/>
<rect x="124" y="1834" width="1560" height="2" fill="rgba(0,0,0,0.12)"/>
<rect x="124" y="1769" width="1560" height="2" fill="rgba(0,0,0,0.12)"/>
<rect x="124" y="1704" width="1560" height="2" fill="rgba(0,0,0,0.12)"/>
<rect x="124" y="1640" width="1560" height="260" fill="none" stroke="#000" stroke-width="2"/>
<rect x="123" y="1901" width="2" height="10" fill="#000"/>
<text transform="translate(115.9139,1942.4) scale(1,1.03)" font-size="28">0</text>
<rect x="383" y="1901" width="2" height="10" fill="#000"/>
<path d="M375.3517,1942.3L375.3517,1928.076L370.9277,1928.076L370.9277,1926.2C372.8877,1926.116 374.1477,1925.92 374.9877,1924.94C375.7437,1924.1 376.1917,1923.26 376.4717,1922.364L377.9277,1922.364L377.9277,1942.3Z" fill="#000"/>
<text transform="translate(383.7,1942.4) scale(1,1.03)" font-size="28">0</text>
<rect x="643" y="1901" width="2" height="10" fill="#000"/>
<text transform="translate(628.1277,1942.4) scale(1,1.03)" font-size="28">20</text>
<rect x="903" y="1901" width="2" height="10" fill="#000"/>
<text transform="translate(888.1277,1942.4) scale(1,1.03)" font-size="28">30</text>
<rect x="1163" y="1901" width="2" height="10" fill="#000"/>
<text transform="translate(1148.1277,1942.4) scale(1,1.03)" font-size="28">40</text>
<rect x="1423" y="1901" width="2" height="10" fill="#000"/>
<text transform="translate(1408.1277,1942.4) scale(1,1.03)" font-size="28">50</text>
<rect x="1683" y="1901" width="2" height="10" fill="#000"/>
<text transform="translate(1668.1277,1942.4) scale(1,1.03)" font-size="28">60</text>
<rect x="113" y="1899" width="10" height="2" fill="#000"/>
<text transform="translate(88.2277,1910.4) scale(1,1.03)" font-size="28">2</text>
<rect x="113" y="1834" width="10" height="2" fill="#000"/>
<text transform="translate(88.2277,1845.4) scale(1,1.03)" font-size="28">4</text>
<rect x="113" y="1769" width="10" height="2" fill="#000"/>
<text transform="translate(88.2277,1780.4) scale(1,1.03)" font-size="28">6</text>
<rect x="113" y="1704" width="10" height="2" fill="#000"/>
<text transform="translate(88.2277,1715.4) scale(1,1.03)" font-size="28">8</text>
<rect x="113" y="1639" width="10" height="2" fill="#000"/>
<path d="M79.8795,1650.3L79.8795,1636.076L75.4555,1636.076L75.4555,1634.2C77.4155,1634.116 78.6755,1633.92 79.5155,1632.94C80.2715,1632.1 80.7195,1631.26 80.9995,1630.364L82.4555,1630.364L82.4555,1650.3Z" fill="#000"/>
<text transform="translate(88.2277,1650.4) scale(1,1.03)" font-size="28">0</text>
<text transform="translate(57,1769.5) rotate(-90) translate(-40.4688,0) scale(1,1.07)" font-size="28">H</text>
<text transform="translate(57,1769.5) rotate(-90) translate(-20.248,0)" font-size="28">eight</text>
<text transform="translate(904.3,1625.8) scale(1,1.035)" font-size="28" text-anchor="middle" font-weight="bold">Specific Differential Phase (KDP)</text>
<rect x="1720" y="1640" width="24" height="260" fill="#a50026"/>
<rect x="1720" y="1645.2" width="24" height="254.8" fill="#af0a26"/>
<rect x="1720" y="1650.4" width="24" height="249.6" fill="#b91426"/>
<rect x="1720" y="1655.6" width="24" height="244.4" fill="#c41d27"/>
<rect x="1720" y="1660.8" width="24" height="239.2" fill="#ce2727"/>
<rect x="1720" y="1666" width="24" height="234" fill="#d83128"/>
<rect x="1720" y="1671.2" width="24" height="228.8" fill="#de3e2d"/>
<rect x="1720" y="1676.4" width="24" height="223.6" fill="#e34a33"/>
<rect x="1720" y="1681.6" width="24" height="218.4" fill="#e95739"/>
<rect x="1720" y="1686.8" width="24" height="213.2" fill="#ef633e"/>
<rect x="1720" y="1692" width="24" height="208" fill="#f47044"/>
<rect x="1720" y="1697.2" width="24" height="202.8" fill="#f67d4a"/>
<rect x="1720" y="1702.4" width="24" height="197.6" fill="#f88a50"/>
<rect x="1720" y="1707.6" width="24" height="192.4" fill="#fa9757"/>
<rect x="1720" y="1712.8" width="24" height="187.2" fill="#fca55d"/>
<rect x="1720" y="1718" width="24" height="182" fill="#fdb164"/>
<rect x="1720" y="1723.2" width="24" height="176.8" fill="#fdbb6c"/>
<rect x="1720" y="1728.4" width="24" height="171.6" fill="#fdc575"/>
<rect x="1720" y="1733.6" width="24" height="166.4" fill="#fed07d"/>
<rect x="1720" y="1738.8" width="24" height="161.2" fill="#feda86"/>
<rect x="1720" y="1744" width="24" height="156" fill="#fee38f"/>
<rect x="1720" y="1749.2" width="24" height="150.8" fill="#fee99a"/>
<rect x="1720" y="1754.4" width="24" height="145.6" fill="#feefa4"/>
<rect x="1720" y="1759.6" width="24" height="140.4" fill="#fff6af"/>
<rect x="1720" y="1764.8" width="24" height="135.2" fill="#fffcba"/>
<rect x="1720" y="1770" width="24" height="130" fill="#fbfdba"/>
<rect x="1720" y="1775.2" width="24" height="124.8" fill="#f3faaf"/>
<rect x="1720" y="1780.4" width="24" height="119.6" fill="#ecf7a4"/>
<rect x="1720" y="1785.6" width="24" height="114.4" fill="#e4f49a"/>
<rect x="1720" y="1790.8" width="24" height="109.2" fill="#dcf08f"/>
<rect x="1720" y="1796" width="24" height="104" fill="#d3ec87"/>
<rect x="1720" y="1801.2" width="24" height="98.8" fill="#c8e880"/>
<rect x="1720" y="1806.4" width="24" height="93.6" fill="#bee379"/>
<rect x="1720" y="1811.6" width="24" height="88.4" fill="#b4df73"/>
<rect x="1720" y="1816.8" width="24" height="83.2" fill="#a9da6c"/>
<rect x="1720" y="1822" width="24" height="78" fill="#9dd569"/>
<rect x="1720" y="1827.2" width="24" height="72.8" fill="#90cf68"/>
<rect x="1720" y="1832.4" width="24" height="67.6" fill="#83ca66"/>
<rect x="1720" y="1837.6" width="24" height="62.4" fill="#76c465"/>
<rect x="1720" y="1842.8" width="24" height="57.2" fill="#69be63"/>
<rect x="1720" y="1848" width="24" height="52" fill="#5ab760"/>
<rect x="1720" y="1853.2" width="24" height="46.8" fill="#4aaf5c"/>
<rect x="1720" y="1858.4" width="24" height="41.6" fill="#3ba858"/>
<rect x="1720" y="1863.6" width="24" height="36.4" fill="#2ba054"/>
<rect x="1720" y="1868.8" width="24" height="31.2" fill="#1c9950"/>
<rect x="1720" y="1874" width="24" height="26" fill="#158f4b"/>
<rect x="1720" y="1879.2" width="24" height="20.8" fill="#108546"/>
<rect x="1720" y="1884.4" width="24" height="15.6" fill="#0b7c41"/>
<rect x="1720" y="1889.6" width="24" height="10.4" fill="#05723c"/>
<rect x="1720" y="1894.8" width="24" height="5.2" fill="#006837"/>
<rect x="1720" y="1640" width="24" height="260" fill="none" stroke="#000" stroke-width="2"/>
<rect x="1745" y="1639" width="10" height="2" fill="#000"/>
<text transform="translate(1762,1650.4) scale(1,1.03)" font-size="28">4</text>
<rect x="1745" y="1691" width="10" height="2" fill="#000"/>
<text transform="translate(1762,1702.4) scale(1,1.03)" font-size="28">3</text>
<rect x="1745" y="1743" width="10" height="2" fill="#000"/>
<text transform="translate(1762,1754.4) scale(1,1.03)" font-size="28">2</text>
<rect x="1745" y="1795" width="10" height="2" fill="#000"/>
<path d="M1769.224,1806.3L1769.224,1792.076L1764.8,1792.076L1764.8,1790.2C1766.76,1790.116 1768.02,1789.92 1768.86,1788.94C1769.616,1788.1 1770.064,1787.26 1770.344,1786.364L1771.8,1786.364L1771.8,1806.3Z" fill="#000"/>
<rect x="1745" y="1847" width="10" height="2" fill="#000"/>
<text transform="translate(1762,1858.4) scale(1,1.03)" font-size="28">0</text>
<rect x="1745" y="1899" width="10" height="2" fill="#000"/>
<rect x="1763.9" y="1902.05" width="12.6" height="2.3" fill="#000"/>
<path d="M1785.5756,1910.3L1785.5756,1896.076L1781.1516,1896.076L1781.1516,1894.2C1783.1116,1894.116 1784.3716,1893.92 1785.2116,1892.94C1785.9676,1892.1 1786.4156,1891.26 1786.6956,1890.364L1788.1516,1890.364L1788.1516,1910.3Z" fill="#000"/>
<text transform="translate(1830.92,1770) rotate(-90) translate(-48.2344,0) scale(1,1.07)" font-size="28">D</text>
<text transform="translate(1830.92,1770) rotate(-90) translate(-28.0137,0)" font-size="28">eg/km</text>
</g>
<g>
<polygon fill="#bfbfbf" points="124,2282 137,2282 137,2273.875 137,2273.875 137,2265.75 137,2265.75 137,2257.625 143.5,2257.625 143.5,2249.5 150,2249.5 150,2241.375 163,2241.375 163,2233.25 176,2233.25 176,2225.125 182.5,2225.125 182.5,2217 195.5,2217 195.5,2208.875 208.5,2208.875 208.5,2200.75 221.5,2200.75 221.5,2192.625 228,2192.625 228,2184.5 241,2184.5 241,2176.375 254,2176.375 254,2168.25 267,2168.25 267,2160.125 273.5,2160.125 273.5,2152 286.5,2152 286.5,2143.875 299.5,2143.875 299.5,2135.75 312.5,2135.75 312.5,2127.625 319,2127.625 319,2119.5 332,2119.5 332,2111.375 345,2111.375 345,2103.25 351.5,2103.25 351.5,2095.125 364.5,2095.125 364.5,2087 377.5,2087 377.5,2078.875 390.5,2078.875 390.5,2070.75 397,2070.75 397,2062.625 410,2062.625 410,2054.5 423,2054.5 423,2046.375 436,2046.375 436,2038.25 442.5,2038.25 442.5,2030.125 455.5,2030.125 455.5,2022 124,2022"/>
<polygon fill="#bfbfbf" points="722,2282 722,2273.875 1255,2273.875 1255,2265.75 1684,2265.75 1684,2282"/>
<rect x="383" y="2022" width="2" height="260" fill="rgba(0,0,0,0.12)"/>
<rect x="643" y="2022" width="2" height="260" fill="rgba(0,0,0,0.12)"/>
<rect x="903" y="2022" width="2" height="260" fill="rgba(0,0,0,0.12)"/>
<rect x="1163" y="2022" width="2" height="260" fill="rgba(0,0,0,0.12)"/>
<rect x="1423" y="2022" width="2" height="260" fill="rgba(0,0,0,0.12)"/>
<rect x="124" y="2216" width="1560" height="2" fill="rgba(0,0,0,0.12)"/>
<rect x="124" y="2151" width="1560" height="2" fill="rgba(0,0,0,0.12)"/>
<rect x="124" y="2086" width="1560" height="2" fill="rgba(0,0,0,0.12)"/>
<rect x="124" y="2022" width="1560" height="260" fill="none" stroke="#000" stroke-width="2"/>
<rect x="123" y="2283" width="2" height="10" fill="#000"/>
<text transform="translate(115.9139,2324.4) scale(1,1.03)" font-size="28">0</text>
<rect x="383" y="2283" width="2" height="10" fill="#000"/>
<path d="M375.3517,2324.3L375.3517,2310.076L370.9277,2310.076L370.9277,2308.2C372.8877,2308.116 374.1477,2307.92 374.9877,2306.94C375.7437,2306.1 376.1917,2305.26 376.4717,2304.364L377.9277,2304.364L377.9277,2324.3Z" fill="#000"/>
<text transform="translate(383.7,2324.4) scale(1,1.03)" font-size="28">0</text>
<rect x="643" y="2283" width="2" height="10" fill="#000"/>
<text transform="translate(628.1277,2324.4) scale(1,1.03)" font-size="28">20</text>
<rect x="903" y="2283" width="2" height="10" fill="#000"/>
<text transform="translate(888.1277,2324.4) scale(1,1.03)" font-size="28">30</text>
<rect x="1163" y="2283" width="2" height="10" fill="#000"/>
<text transform="translate(1148.1277,2324.4) scale(1,1.03)" font-size="28">40</text>
<rect x="1423" y="2283" width="2" height="10" fill="#000"/>
<text transform="translate(1408.1277,2324.4) scale(1,1.03)" font-size="28">50</text>
<rect x="1683" y="2283" width="2" height="10" fill="#000"/>
<text transform="translate(1668.1277,2324.4) scale(1,1.03)" font-size="28">60</text>
<rect x="113" y="2281" width="10" height="2" fill="#000"/>
<text transform="translate(88.2277,2292.4) scale(1,1.03)" font-size="28">2</text>
<rect x="113" y="2216" width="10" height="2" fill="#000"/>
<text transform="translate(88.2277,2227.4) scale(1,1.03)" font-size="28">4</text>
<rect x="113" y="2151" width="10" height="2" fill="#000"/>
<text transform="translate(88.2277,2162.4) scale(1,1.03)" font-size="28">6</text>
<rect x="113" y="2086" width="10" height="2" fill="#000"/>
<text transform="translate(88.2277,2097.4) scale(1,1.03)" font-size="28">8</text>
<rect x="113" y="2021" width="10" height="2" fill="#000"/>
<path d="M79.8795,2032.3L79.8795,2018.076L75.4555,2018.076L75.4555,2016.2C77.4155,2016.116 78.6755,2015.92 79.5155,2014.94C80.2715,2014.1 80.7195,2013.26 80.9995,2012.364L82.4555,2012.364L82.4555,2032.3Z" fill="#000"/>
<text transform="translate(88.2277,2032.4) scale(1,1.03)" font-size="28">0</text>
<text transform="translate(57,2151.5) rotate(-90) translate(-40.4688,0) scale(1,1.07)" font-size="28">H</text>
<text transform="translate(57,2151.5) rotate(-90) translate(-20.248,0)" font-size="28">eight</text>
<text transform="translate(904.3,2007.8) scale(1,1.035)" font-size="28" text-anchor="middle" font-weight="bold">Differential Phase (PhiDP)</text>
<rect x="1720" y="2022" width="24" height="260" fill="url(#davos)"/>
<rect x="1720" y="2022" width="24" height="260" fill="none" stroke="#000" stroke-width="2"/>
<rect x="1745" y="2021" width="10" height="2" fill="#000"/>
<text transform="translate(1762,2032.4) scale(1,1.03)" font-size="28">360</text>
<rect x="1745" y="2053.5" width="10" height="2" fill="#000"/>
<text transform="translate(1762,2064.9) scale(1,1.03)" font-size="28">3</text>
<path d="M1784.7963,2064.8L1784.7963,2050.576L1780.3723,2050.576L1780.3723,2048.7C1782.3323,2048.616 1783.5923,2048.42 1784.4323,2047.44C1785.1883,2046.6 1785.6363,2045.76 1785.9163,2044.864L1787.3723,2044.864L1787.3723,2064.8Z" fill="#000"/>
<text transform="translate(1793.1445,2064.9) scale(1,1.03)" font-size="28">5</text>
<rect x="1745" y="2086" width="10" height="2" fill="#000"/>
<text transform="translate(1762,2097.4) scale(1,1.03)" font-size="28">270</text>
<rect x="1745" y="2118.5" width="10" height="2" fill="#000"/>
<text transform="translate(1762,2129.9) scale(1,1.03)" font-size="28">225</text>
<rect x="1745" y="2151" width="10" height="2" fill="#000"/>
<path d="M1769.224,2162.3L1769.224,2148.076L1764.8,2148.076L1764.8,2146.2C1766.76,2146.116 1768.02,2145.92 1768.86,2144.94C1769.616,2144.1 1770.064,2143.26 1770.344,2142.364L1771.8,2142.364L1771.8,2162.3Z" fill="#000"/>
<text transform="translate(1777.5723,2162.4) scale(1,1.03)" font-size="28">80</text>
<rect x="1745" y="2183.5" width="10" height="2" fill="#000"/>
<path d="M1769.224,2194.8L1769.224,2180.576L1764.8,2180.576L1764.8,2178.7C1766.76,2178.616 1768.02,2178.42 1768.86,2177.44C1769.616,2176.6 1770.064,2175.76 1770.344,2174.864L1771.8,2174.864L1771.8,2194.8Z" fill="#000"/>
<text transform="translate(1777.5723,2194.9) scale(1,1.03)" font-size="28">35</text>
<rect x="1745" y="2216" width="10" height="2" fill="#000"/>
<text transform="translate(1762,2227.4) scale(1,1.03)" font-size="28">90</text>
<rect x="1745" y="2248.5" width="10" height="2" fill="#000"/>
<text transform="translate(1762,2259.9) scale(1,1.03)" font-size="28">45</text>
<rect x="1745" y="2281" width="10" height="2" fill="#000"/>
<text transform="translate(1762,2292.4) scale(1,1.03)" font-size="28">0</text>
<text transform="translate(1845.704,2152) rotate(-90) translate(-25.6826,0) scale(1,1.07)" font-size="28">D</text>
<text transform="translate(1845.704,2152) rotate(-90) translate(-5.4619,0)" font-size="28">eg</text>
</g>
<text transform="translate(903.8,2363.1) translate(-41.2549,0) scale(1,1.07)" font-size="28">R</text>
<text transform="translate(903.8,2363.1) translate(-21.0342,0)" font-size="28">ange</text>
</svg>
</body></html>
